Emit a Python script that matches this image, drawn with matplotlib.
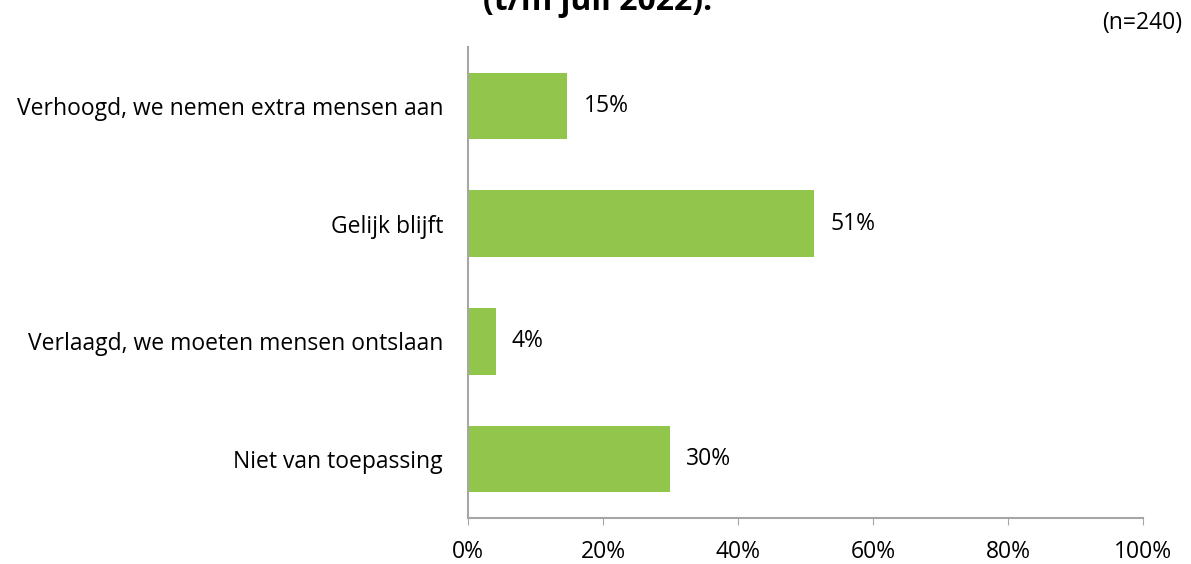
import matplotlib.pyplot as plt
from matplotlib.ticker import FuncFormatter

categories = ["Verhoogd, we nemen extra mensen aan", "Gelijk blijft",
              "Verlaagd, we moeten mensen ontslaan", "Niet van toepassing"]
values = [14.7, 51.3, 4.1, 29.9]
labels = ["15%", "51%", "4%", "30%"]
ticks = [0, 20, 40, 60, 80, 100]

plt.rcParams['font.family'] = ['Open Sans', 'DejaVu Sans']

fig = plt.figure(figsize=(11.91, 5.64), dpi=100)
ax = fig.add_axes([0.3930, 0.0816, 0.5667, 0.8351])

y = list(range(len(categories)))
ax.barh(y, values, height=0.564, color='#92C54C')
for yi, v, lab in zip(y, values, labels):
    ax.text(v + 2.4, yi, lab, va='center', ha='left', fontsize=16.5)

ax.set_ylim(3.5, -0.5)
ax.set_xlim(0, 100)
ax.set_yticks(y)
ax.set_yticklabels(categories, fontsize=16.5)
ax.set_xticks(ticks)
ax.xaxis.set_major_formatter(FuncFormatter(lambda v, p: "%d%%" % v))
ax.tick_params(axis='x', labelsize=16.5, length=5, color='#A6A6A6', pad=11)
ax.tick_params(axis='y', length=0, pad=18)

for s in ['top', 'right']:
    ax.spines[s].set_visible(False)
for s in ['left', 'bottom']:
    ax.spines[s].set_color('#A6A6A6')
    ax.spines[s].set_linewidth(1.5)

fig.text(0.502, 0.982, "(t/m juli 2022).", ha='center', va='baseline',
         fontsize=23, fontweight='bold')
fig.text(0.993, 0.96, "(n=240)", ha='right', va='center', fontsize=16.5)

fig.savefig("out.png", dpi=100)
